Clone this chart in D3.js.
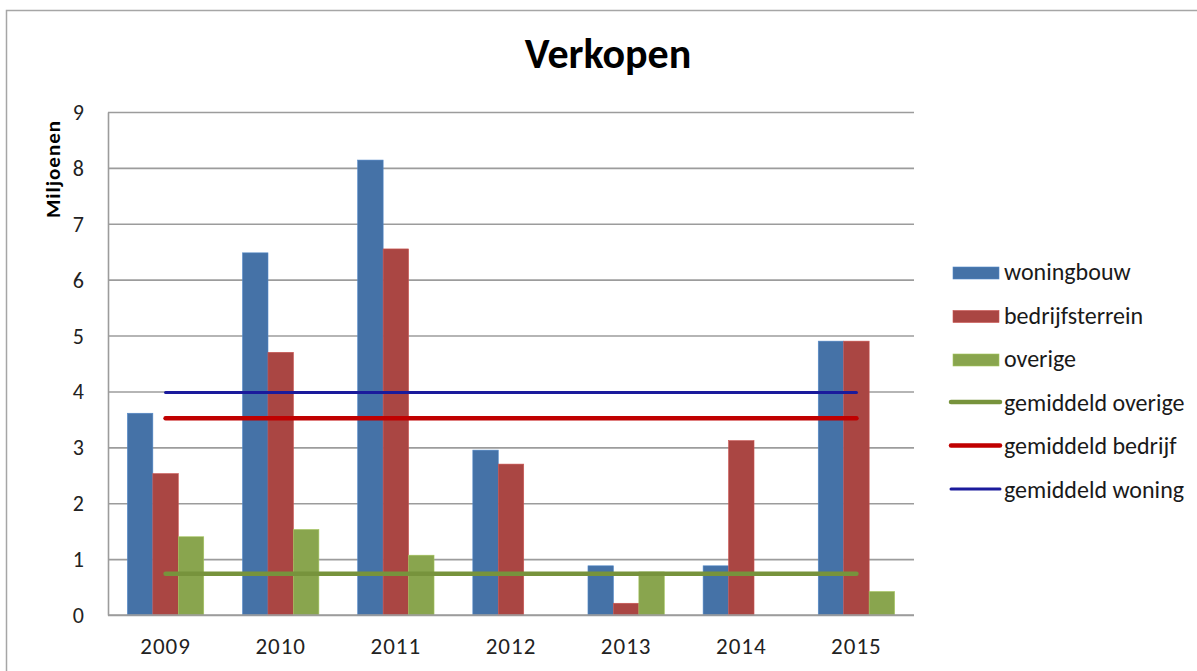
<!DOCTYPE html>
<html>
<head>
<meta charset="utf-8">
<script src="https://cdn.jsdelivr.net/npm/d3@7"></script>
<style>
  html, body { margin: 0; padding: 0; background: #fff; }
  svg { display: block; }
  text { font-family: Carlito, Lato, "Open Sans", sans-serif; }
</style>
</head>
<body>
<svg id="chart" width="1197" height="671"></svg>
<script>
// Sales per year, in millions
const years = ["2009", "2010", "2011", "2012", "2013", "2014", "2015"];
const woningbouw      = [3.61, 6.48, 8.14, 2.95, 0.88, 0.88, 4.90];
const bedrijfsterrein = [2.53, 4.70, 6.55, 2.70, 0.21, 3.12, 4.90];
const overige         = [1.40, 1.53, 1.07, 0.00, 0.77, 0.00, 0.42];

// Average lines (one value per year, flat)
const gemOverige = [0.74, 0.74, 0.74, 0.74, 0.74, 0.74, 0.74];
const gemBedrijf = [3.52, 3.52, 3.52, 3.52, 3.52, 3.52, 3.52];
const gemWoning  = [3.98, 3.98, 3.98, 3.98, 3.98, 3.98, 3.98];

const yTicks = [0, 1, 2, 3, 4, 5, 6, 7, 8, 9];

const barSeries = [
  { name: "woningbouw",      values: woningbouw,      color: "#4572A7" },
  { name: "bedrijfsterrein", values: bedrijfsterrein, color: "#AA4643" },
  { name: "overige",         values: overige,         color: "#89A54E" }
];
const lineSeries = [
  { name: "gemiddeld overige", values: gemOverige, color: "#77933C", width: 4.5 },
  { name: "gemiddeld bedrijf", values: gemBedrijf, color: "#C00000", width: 4.5 },
  { name: "gemiddeld woning",  values: gemWoning,  color: "#1A1A9C", width: 3, glow: true }
];

const svg = d3.select("#chart");

// chart frame
svg.append("rect")
  .attr("x", 6.5).attr("y", 10.5)
  .attr("width", 1400).attr("height", 900)
  .attr("fill", "#fff").attr("stroke", "#a6a6a6").attr("stroke-width", 1.5);

const plot = { left: 108, right: 914, top: 112, bottom: 615 };

const x0 = d3.scaleBand()
  .domain(years)
  .range([plot.left, plot.right])
  .paddingInner(0.337)
  .paddingOuter(0.337 / 2);

const x1 = d3.scaleBand()
  .domain(barSeries.map(d => d.name))
  .range([0, x0.bandwidth()]);

const y = d3.scaleLinear().domain([0, 9]).range([plot.bottom, plot.top]);

const defs = svg.append("defs");
defs.append("filter").attr("id", "soft")
  .attr("x", "-5%").attr("y", "-200%").attr("width", "110%").attr("height", "500%")
  .append("feGaussianBlur").attr("stdDeviation", 0.7);

// gridlines
const grid = svg.append("g")
  .attr("transform", `translate(${plot.left},0)`)
  .call(d3.axisLeft(y).tickValues(yTicks).tickSize(-(plot.right - plot.left)).tickFormat(""));
grid.select(".domain").remove();
grid.selectAll(".tick line").attr("stroke", "#9c9c9c").attr("stroke-width", 1.6);

// bars
const groups = svg.append("g").selectAll("g")
  .data(years)
  .join("g")
  .attr("transform", d => `translate(${x0(d)},0)`);

groups.selectAll("rect")
  .data((yr, i) => barSeries.map(s => ({ key: s.name, color: s.color, v: s.values[i] })))
  .join("rect")
  .attr("x", d => x1(d.key))
  .attr("width", x1.bandwidth())
  .attr("y", d => y(d.v))
  .attr("height", d => y(0) - y(d.v))
  .attr("fill", d => d.color)
  .attr("stroke", d => d3.color(d.color).brighter(0.5))
  .attr("stroke-width", d => d.v > 0 ? 0.6 : 0);

// axes
const yAxis = svg.append("g")
  .attr("transform", `translate(${plot.left},0)`)
  .call(d3.axisLeft(y).tickValues(yTicks).tickSize(0).tickPadding(24).tickFormat(d3.format("d")));
yAxis.select(".domain").attr("stroke", "#9c9c9c").attr("stroke-width", 1.6);
yAxis.selectAll("text").attr("font-size", 22).attr("fill", "#222").attr("dy", "0.34em");

const xAxis = svg.append("g")
  .attr("transform", `translate(0,${plot.bottom})`)
  .call(d3.axisBottom(x0).tickSize(0).tickPadding(23).tickSizeOuter(0));
xAxis.select(".domain").attr("stroke", "#9c9c9c").attr("stroke-width", 1.6)
  .attr("d", `M${plot.left},0H${plot.right}`);
xAxis.selectAll("text").attr("font-size", 23).attr("fill", "#222")
  .attr("letter-spacing", 1);

// average lines
const line = d3.line()
  .x((d, i) => x0(years[i]) + x0.bandwidth() / 2)
  .y(d => y(d));

lineSeries.forEach(s => {
  if (s.glow) {
    svg.append("path")
      .attr("d", line(s.values))
      .attr("transform", "translate(0,3)")
      .attr("fill", "none")
      .attr("stroke", "#e4e7fb")
      .attr("stroke-opacity", 0.85)
      .attr("stroke-width", 3.5)
      .attr("stroke-linecap", "round")
      .attr("filter", "url(#soft)");
  }
  svg.append("path")
    .attr("d", line(s.values))
    .attr("fill", "none")
    .attr("stroke", s.color)
    .attr("stroke-width", s.width)
    .attr("stroke-linecap", "round");
});

// title
svg.append("text")
  .attr("x", 608).attr("y", 68)
  .attr("text-anchor", "middle")
  .attr("font-size", 42).attr("font-weight", "bold").attr("fill", "#000")
  .text("Verkopen");

// y axis title
svg.append("text")
  .attr("transform", "translate(60,169) rotate(-90)")
  .attr("text-anchor", "middle")
  .attr("font-size", 21).attr("font-weight", "bold").attr("fill", "#000")
  .attr("letter-spacing", 1)
  .text("Miljoenen");

// legend
const legendItems = [
  ...barSeries.map(s => ({ name: s.name, color: s.color, type: "bar" })),
  ...lineSeries.map(s => ({ name: s.name, color: s.color, type: "line", glow: s.glow }))
];
const legend = svg.append("g");
const rowBase = d3.scalePoint().domain(legendItems.map(d => d.name)).range([280, 497.5]);
legendItems.forEach(d => {
  const base = rowBase(d.name);
  if (d.type === "bar") {
    const cy = base - 7;
    legend.append("rect")
      .attr("x", 953).attr("y", cy - 6).attr("width", 46).attr("height", 12)
      .attr("fill", d.color)
      .attr("stroke", d3.color(d.color).brighter(0.5)).attr("stroke-width", 0.6);
  } else {
    const cy = base - 8.5;
    if (d.glow) {
      legend.append("line")
        .attr("x1", 951).attr("x2", 1000).attr("y1", cy + 3).attr("y2", cy + 3)
        .attr("stroke", "#d6dbf6").attr("stroke-width", 3.5).attr("stroke-linecap", "round")
        .attr("filter", "url(#soft)");
    }
    legend.append("line")
      .attr("x1", 951).attr("x2", 1000).attr("y1", cy).attr("y2", cy)
      .attr("stroke", d.color).attr("stroke-width", d.glow ? 3 : 4.5).attr("stroke-linecap", "round");
  }
  legend.append("text")
    .attr("x", 1004).attr("y", base)
    .attr("font-size", 24).attr("fill", "#1a1a1a")
    .text(d.name);
});
</script>
</body>
</html>
